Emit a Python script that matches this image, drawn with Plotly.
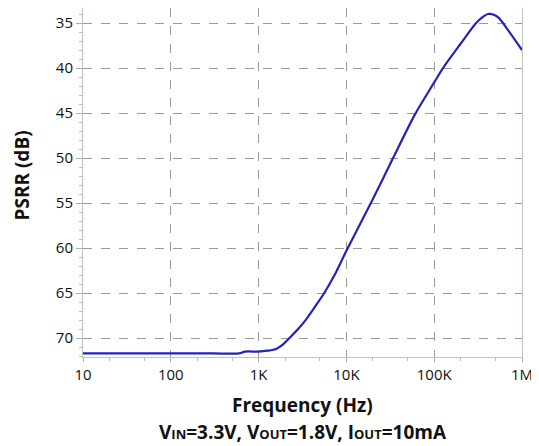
import plotly.graph_objects as go

freq_hz = [10, 100, 300, 600, 700, 1000, 1260, 1585, 1900, 2190, 2820, 3550, 4470, 5500,
           7410, 10000, 19000, 34000, 60000, 100000, 126000, 200000, 300000,
           350000, 410000, 470000, 540000, 720000, 1000000]
psrr_db = [71.7, 71.7, 71.7, 71.7, 71.5, 71.5, 71.4, 71.2, 70.7, 70.1, 69.0, 67.8, 66.4, 65.1,
           62.9, 60.3, 55.0, 50.0, 45.2, 41.6, 40.0, 37.3, 35.0,
           34.4, 34.0, 34.05, 34.4, 36.0, 38.0]

x_tickvals = [10, 100, 1000, 10000, 100000, 1000000]
x_ticktext = ["10", "100", "1K", "10K", "100K", "1M"]
y_tickvals = [35, 40, 45, 50, 55, 60, 65, 70]

fig = go.Figure()
fig.add_trace(go.Scatter(x=freq_hz, y=psrr_db, mode="lines",
                         line=dict(color="#2323b8", width=2.2, shape="spline", smoothing=0.8),
                         showlegend=False))

font_family = "Open Sans, Liberation Sans, sans-serif"
fig.update_layout(
    width=531, height=438,
    margin=dict(l=75, r=17, t=0, b=89),
    paper_bgcolor="white", plot_bgcolor="white",
    font=dict(family=font_family, size=14, color="#111"),
)
fig.update_xaxes(
    type="log", range=[1, 6], automargin=False,
    tickvals=x_tickvals, ticktext=x_ticktext,
    showgrid=True, gridcolor="#9a9a9a", griddash="dash", gridwidth=1,
    showline=True, linecolor="#b8c8b8", linewidth=1, mirror=True,
    ticks="outside", ticklen=4, tickcolor="#aaaaaa",
    minor=dict(ticks="outside", ticklen=3, tickcolor="#bbbbbb", showgrid=False),
    tickfont=dict(size=15, family=font_family),
    zeroline=False,
)
fig.update_yaxes(
    range=[72.1, 33.33], automargin=False,
    tickvals=y_tickvals,
    showgrid=True, gridcolor="#9a9a9a", griddash="dash", gridwidth=1,
    showline=True, linecolor="#b8c8b8", linewidth=1, mirror=True,
    ticks="outside", ticklen=6, tickcolor="#aaaaaa",
    minor=dict(ticks="outside", ticklen=3, tickcolor="#bbbbbb", dtick=1, showgrid=False),
    tickfont=dict(size=15, family=font_family),
    zeroline=False,
)
fig.add_annotation(
    text="<b>Frequency (Hz)</b>",
    xref="paper", yref="paper", x=0.5, y=-0.1375, yanchor="middle", xanchor="center",
    showarrow=False, font=dict(size=19, family=font_family, color="#111"),
)
fig.add_annotation(
    text="<b>PSRR (dB)</b>", textangle=-90,
    xref="paper", yref="paper", x=-0.139, y=0.52, yanchor="middle", xanchor="center",
    showarrow=False, font=dict(size=19, family=font_family, color="#111"),
)
fig.add_annotation(
    text="<b>V<span style='font-size:13px'>IN</span>=3.3V, V<span style='font-size:13px'>OUT</span>=1.8V, I<span style='font-size:13px'>OUT</span>=10mA</b>",
    xref="paper", yref="paper", x=0.5, y=-0.215, yanchor="middle", xanchor="center",
    showarrow=False, font=dict(size=19, family=font_family, color="#111"),
)
fig.write_html("out.html")
